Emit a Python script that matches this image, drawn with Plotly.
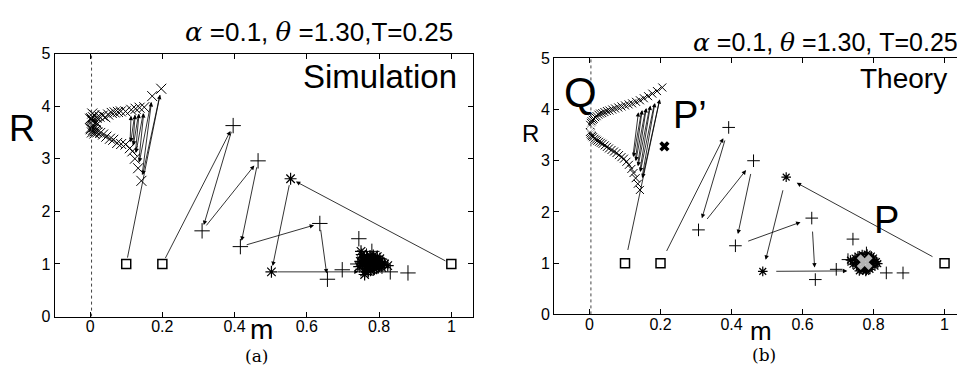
import plotly.graph_objects as go

W, H = 965, 372

# ---------------- DATA ----------------
start_m = [0.1, 0.2, 1.0]
start_R = [1.0, 1.0, 1.0]

# Simulation (a)
sim_x_m = [0.197, 0.142, 0.172, 0.133, 0.150, 0.124, 0.137, 0.117, 0.126, 0.110, 0.114,
           0.098, 0.098, 0.086, 0.085, 0.075, 0.077, 0.064, 0.068, 0.055, 0.060, 0.045,
           0.050, 0.036, 0.042, 0.028, 0.035, 0.020, 0.026, 0.013, 0.018, 0.008, 0.012,
           0.005, 0.008, 0.002, 0.004, 0.010, 0.006, 0.015, 0.003, 0.012, 0.007, 0.001,
           0.020, 0.016, 0.009, 0.000]
sim_x_R = [4.33, 2.58, 4.19, 2.82, 3.98, 3.00, 3.97, 3.14, 3.95, 3.20, 3.93,
           3.27, 3.90, 3.28, 3.90, 3.30, 3.89, 3.36, 3.88, 3.38, 3.87, 3.42,
           3.84, 3.46, 3.79, 3.49, 3.82, 3.50, 3.80, 3.52, 3.78, 3.55, 3.83,
           3.50, 3.79, 3.56, 3.74, 3.60, 3.86, 3.54, 3.77, 3.48, 3.72, 3.58,
           3.66, 3.70, 3.64, 3.76]
sim_plus_m = [0.396, 0.310, 0.465, 0.416, 0.636, 0.657, 0.698, 0.744, 0.741, 0.780,
              0.831, 0.880, 0.760, 0.790, 0.770, 0.755, 0.800, 0.785, 0.765]
sim_plus_R = [3.63, 1.63, 2.96, 1.33, 1.77, 0.71, 0.89, 1.48, 1.00, 1.24,
              0.85, 0.83, 1.10, 1.05, 0.95, 0.90, 1.00, 0.92, 1.15]
sim_star_m = [0.555, 0.502, 0.760,
              0.752, 0.758, 0.748, 0.755, 0.762, 0.766, 0.770, 0.772, 0.775, 0.778,
              0.780, 0.782, 0.785, 0.788, 0.790, 0.793, 0.795, 0.798, 0.800, 0.803,
              0.806, 0.810, 0.760, 0.765, 0.768, 0.776, 0.784, 0.792, 0.797, 0.802,
              0.757, 0.763, 0.773, 0.787, 0.808, 0.815, 0.824, 0.760, 0.750, 0.745,
              0.770, 0.795, 0.753, 0.781, 0.789]
sim_star_R = [2.62, 0.85, 0.85,
              1.18, 1.12, 1.05, 0.98, 0.92, 1.08, 1.02, 0.95, 1.15, 1.06,
              0.90, 1.00, 1.10, 0.96, 1.04, 0.92, 1.08, 1.00, 0.95, 1.05,
              0.98, 1.02, 1.04, 0.97, 1.13, 0.88, 1.16, 0.99, 0.93, 1.10,
              1.08, 1.00, 1.09, 0.91, 0.93, 1.00, 0.97, 0.80, 1.24, 0.95,
              0.86, 1.14, 1.02, 1.12, 1.07]

# Theory (b)
th_x_m = [0.205, 0.142, 0.190, 0.136, 0.177, 0.130, 0.165, 0.124, 0.153, 0.118,
          0.142, 0.111, 0.131, 0.104, 0.120, 0.097, 0.110, 0.090, 0.100, 0.083,
          0.090, 0.076, 0.081, 0.069, 0.072, 0.062, 0.064, 0.055, 0.056, 0.049,
          0.049, 0.043, 0.042, 0.037, 0.036, 0.032, 0.030, 0.027, 0.025, 0.022,
          0.020, 0.018, 0.016, 0.014, 0.012, 0.010, 0.009, 0.007, 0.006, 0.005,
          0.004, 0.003, 0.002, 0.001]
th_x_R = [4.43, 2.43, 4.36, 2.55, 4.31, 2.66, 4.26, 2.76, 4.22, 2.84,
          4.18, 2.92, 4.15, 2.98, 4.12, 3.04, 4.10, 3.07, 4.08, 3.11,
          4.06, 3.15, 4.04, 3.18, 4.02, 3.21, 4.00, 3.24, 3.98, 3.27,
          3.97, 3.30, 3.95, 3.33, 3.93, 3.35, 3.92, 3.37, 3.90, 3.39,
          3.87, 3.41, 3.85, 3.43, 3.82, 3.46, 3.80, 3.48, 3.77, 3.50,
          3.74, 3.53, 3.70, 3.56]
th_plus_m = [0.392, 0.307, 0.462, 0.411, 0.626, 0.636, 0.695, 0.742, 0.728, 0.836,
             0.883, 0.780, 0.760, 0.795, 0.770]
th_plus_R = [3.65, 1.65, 3.00, 1.34, 1.88, 0.68, 0.88, 1.47, 1.07, 0.81,
             0.81, 1.20, 1.10, 0.95, 0.90]
th_star_m = [0.554, 0.488, 0.760,
             0.735, 0.742, 0.748, 0.752, 0.756, 0.760, 0.764, 0.768, 0.772, 0.776,
             0.780, 0.784, 0.788, 0.792, 0.796, 0.800, 0.804, 0.808, 0.812, 0.758,
             0.766, 0.774, 0.782, 0.790, 0.798, 0.750, 0.770, 0.786, 0.794, 0.778]
th_star_R = [2.68, 0.84, 0.85,
             1.06, 0.98, 1.10, 0.94, 1.14, 1.02, 0.88, 1.17, 0.96, 1.08,
             0.86, 1.12, 0.92, 1.05, 0.98, 1.10, 0.94, 1.03, 0.99, 1.06,
             1.12, 0.90, 1.18, 0.88, 1.07, 1.01, 1.00, 1.00, 1.14, 0.84]
th_Pprime = ([0.211], [3.28])
th_fixed_m = [0.002, 0.775]
th_fixed_R = [3.62, 1.02]

sim_arrows = {"x": 11, "plus": 6, "star": 3}
th_arrows = {"x": 11, "plus": 6, "star": 3}

xticks = [0, 0.2, 0.4, 0.6, 0.8, 1]
xticklabels = ["0", "0.2", "0.4", "0.6", "0.8", "1"]
yticks = [0, 1, 2, 3, 4, 5]
yticklabels = ["0", "1", "2", "3", "4", "5"]

SERIF = "<span style=\"font-family:'DejaVu Serif'\"><i>{}</i></span>"
title_a = SERIF.format("α") + " =0.1, " + SERIF.format("θ") + " =1.30,T=0.25"
title_b = SERIF.format("α") + " =0.1, " + SERIF.format("θ") + " =1.30, T=0.25"

FONT = "Liberation Sans, Arial, sans-serif"

fig = go.Figure()


def px(x):
    return x / W


def py(y):
    return 1 - y / H


def add_panel(xa, ya, xs_m, xs_R, pl_m, pl_R, st_m, st_R, narr, msize, so, sso):
    common = dict(mode="markers", xaxis=xa, yaxis=ya, showlegend=False, hoverinfo="skip")
    fig.add_trace(go.Scatter(x=xs_m, y=xs_R, marker=dict(symbol="x-thin-open", size=msize, color="black",
                                                         line=dict(width=1, color="black")), **common))
    fig.add_trace(go.Scatter(x=pl_m, y=pl_R, marker=dict(symbol="cross-thin-open", size=msize + 1, color="black",
                                                         line=dict(width=1, color="black")), **common))
    fig.add_trace(go.Scatter(x=st_m, y=st_R, marker=dict(symbol="asterisk-open", size=msize, color="black",
                                                         line=dict(width=1.2, color="black")), **common))
    fig.add_trace(go.Scatter(x=start_m, y=start_R, marker=dict(symbol="square-open", size=9, color="black",
                                                               line=dict(width=1.5, color="black")), **common))
    xr = "x" if xa == "x" else "x2"
    yr = "y" if ya == "y" else "y2"
    trajs = [(0, xs_m, xs_R, narr["x"]), (1, pl_m, pl_R, narr["plus"]), (2, st_m, st_R, narr["star"])]
    for si, mm, rr, n in trajs:
        pts = [(start_m[si], start_R[si])] + list(zip(mm, rr))
        for i in range(n):
            (x0, y0), (x1, y1) = pts[i], pts[i + 1]
            fig.add_annotation(x=x1, y=y1, ax=x0, ay=y0, xref=xr, yref=yr, axref=xr, ayref=yr,
                               showarrow=True, arrowhead=2, arrowsize=1.1, arrowwidth=0.8,
                               arrowcolor="black", standoff=so, startstandoff=sso, text="")


add_panel("x", "y", sim_x_m, sim_x_R, sim_plus_m, sim_plus_R, sim_star_m, sim_star_R,
          sim_arrows, 10, 6, 5)
add_panel("x2", "y2", th_x_m, th_x_R, th_plus_m, th_plus_R, th_star_m, th_star_R,
          th_arrows, 8, 12, 12)

# theory special markers
fig.add_trace(go.Scatter(x=th_Pprime[0], y=th_Pprime[1], mode="markers", xaxis="x2", yaxis="y2",
                         marker=dict(symbol="x", size=9, color="black", line=dict(width=0)),
                         showlegend=False, hoverinfo="skip"))
fig.add_trace(go.Scatter(x=th_fixed_m, y=th_fixed_R, mode="markers", xaxis="x2", yaxis="y2",
                         marker=dict(symbol="x", size=[9, 14], color="white", line=dict(width=0)),
                         showlegend=False, hoverinfo="skip"))

axis_common = dict(showgrid=False, zeroline=False, showline=True, linecolor="black", linewidth=1,
                   mirror="ticks", ticks="inside", ticklen=5, tickcolor="black", tickwidth=1,
                   tickfont=dict(family=FONT, size=16, color="black"))

fig.update_layout(
    width=W, height=H, margin=dict(l=0, r=0, t=0, b=0),
    paper_bgcolor="white", plot_bgcolor="white", showlegend=False,
    xaxis=dict(domain=[px(46.7), px(465)], range=[-0.098, 1.06], anchor="y",
               tickvals=xticks, ticktext=xticklabels, ticklabelstandoff=-5, **axis_common),
    yaxis=dict(domain=[py(315), py(39.3)], range=[0, 5], anchor="x",
               tickvals=yticks, ticktext=yticklabels, **axis_common),
    xaxis2=dict(domain=[px(546), px(955)], range=[-0.1, 1.052], anchor="y2",
                tickvals=xticks, ticktext=xticklabels, ticklabelstandoff=-5, **axis_common),
    yaxis2=dict(domain=[py(312.7), py(44.3)], range=[0, 5], anchor="x2",
                tickvals=yticks, ticktext=yticklabels, **axis_common),
)

# dotted vertical line at m=0
for xr, yr in (("x", "y"), ("x2", "y2")):
    fig.add_shape(type="line", xref=xr, yref=yr, x0=0.004, x1=0.004, y0=0, y1=5,
                  line=dict(color="#444", width=1, dash="dot"))


def txt(text, x, y, size, xanchor="center", family=FONT):
    fig.add_annotation(text=text, x=px(x), y=py(y), xref="paper", yref="paper", showarrow=False,
                       xanchor=xanchor, yanchor="middle", borderpad=0,
                       font=dict(family=family, size=size, color="black"))


txt(title_a, 446, 17, 26, "right")
txt(title_b, 951, 28, 25, "right")
txt("Simulation", 450, 63, 33, "right")
txt("Theory", 940, 65, 28, "right")
txt("R", 14, 118, 36)
txt("R", 522, 123, 24)
txt("m", 253, 328, 28)
txt("m", 753, 330, 26)
txt("(a)", 248, 356, 17, family="DejaVu Serif, serif")
txt("(b)", 756, 355, 17, family="DejaVu Serif, serif")
txt("Q", 572, 80, 42)
txt("P’", 682, 104, 38)
txt("P", 878, 214, 38)

fig.write_html("out.html")
